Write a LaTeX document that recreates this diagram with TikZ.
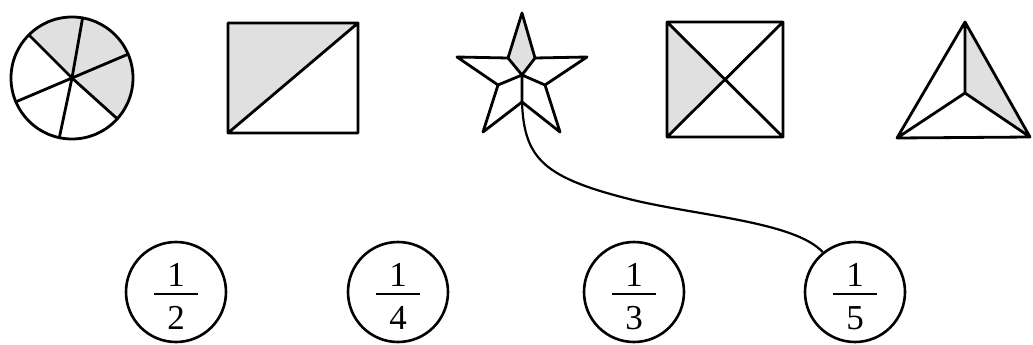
\documentclass[tikz,border=0pt]{standalone}
\usepackage{fontspec}
\setmainfont{Liberation Serif}
\definecolor{shade}{HTML}{E0E0E0}
\begin{document}
\begin{tikzpicture}[x=1pt,y=-1pt,
  fig/.style={line width=2.8pt,line join=round,line cap=round},
  fill shade/.style={fill=shade},
  fcirc/.style={draw,circle,line width=2.6pt,minimum size=100pt,inner sep=0pt},
  digit/.style={font=\fontsize{35}{38}\selectfont,inner sep=0pt},
  bar/.style={line width=2.6pt},
  curve/.style={line width=2.2pt}]
\useasboundingbox (0,0) rectangle (1033,345);
% --- circle divided in 6
\coordinate (c1) at (72,78);
\fill[fill shade] (c1) -- ++(225:61) arc[start angle=225,end angle=402,radius=61] -- cycle;
\draw[fig] (c1) circle[radius=61];
\foreach \a in {225,280,337,42,102,157} \draw[fig] (c1) -- ++(\a:61);
% --- rectangle with diagonal
\coordinate (r1) at (228,23); \coordinate (r2) at (358,23);
\coordinate (r3) at (358,133); \coordinate (r4) at (228,133);
\fill[fill shade] (r1) -- (r2) -- (r4) -- cycle;
\draw[fig] (r1) -- (r2) -- (r3) -- (r4) -- cycle (r4) -- (r2);
% --- star
\coordinate (st) at (522,13);  \coordinate (sur) at (535,58);
\coordinate (sr) at (587,57);  \coordinate (slr) at (545,85);
\coordinate (sbr) at (560,132);\coordinate (sb) at (522,102);
\coordinate (sbl) at (483,132);\coordinate (sll) at (498,85);
\coordinate (sl) at (457,57);  \coordinate (sul) at (508,58);
\coordinate (sc) at (522,75);
\fill[fill shade] (st) -- (sur) -- (sc) -- (sul) -- cycle;
\draw[fig] (st) -- (sur) -- (sr) -- (slr) -- (sbr) -- (sb) -- (sbl) -- (sll) -- (sl) -- (sul) -- cycle;
\draw[fig] (sul) -- (sc) -- (sur) (sll) -- (sc) -- (slr) (sc) -- (sb);
% --- square with diagonals
\coordinate (q1) at (667,22); \coordinate (q2) at (783,22);
\coordinate (q3) at (783,137); \coordinate (q4) at (667,137);
\coordinate (qc) at (725,79.5);
\fill[fill shade] (q1) -- (qc) -- (q4) -- cycle;
\draw[fig] (q1) -- (q2) -- (q3) -- (q4) -- cycle (q1) -- (q3) (q2) -- (q4);
% --- triangle
\coordinate (t1) at (965,22); \coordinate (t2) at (1030,137);
\coordinate (t3) at (897,138); \coordinate (tc) at (965,93);
\fill[fill shade] (t1) -- (t2) -- (tc) -- cycle;
\draw[fig] (t1) -- (t2) -- (t3) -- cycle (t1) -- (tc) (t2) -- (tc) (t3) -- (tc);
% --- fraction circles
\foreach \n/\x/\d in {f2/176/2,f4/398/4,f3/634/3,f5/855/5}{
  \node[fcirc] (\n) at (\x,292) {};
  \node[digit] (\n n) at (\x,275) {1};
  \draw[bar] (\x-22,294) -- (\x+22,294);
  \node[digit] (\n d) at (\x,318) {\d};
}
% --- connecting curve
\coordinate (cm) at (633,200);
\draw[curve] (sb) .. controls (524,160) and (545,178) .. (cm)
  .. controls (700,216) and (795,222) .. (f5.129);
\end{tikzpicture}
\end{document}
